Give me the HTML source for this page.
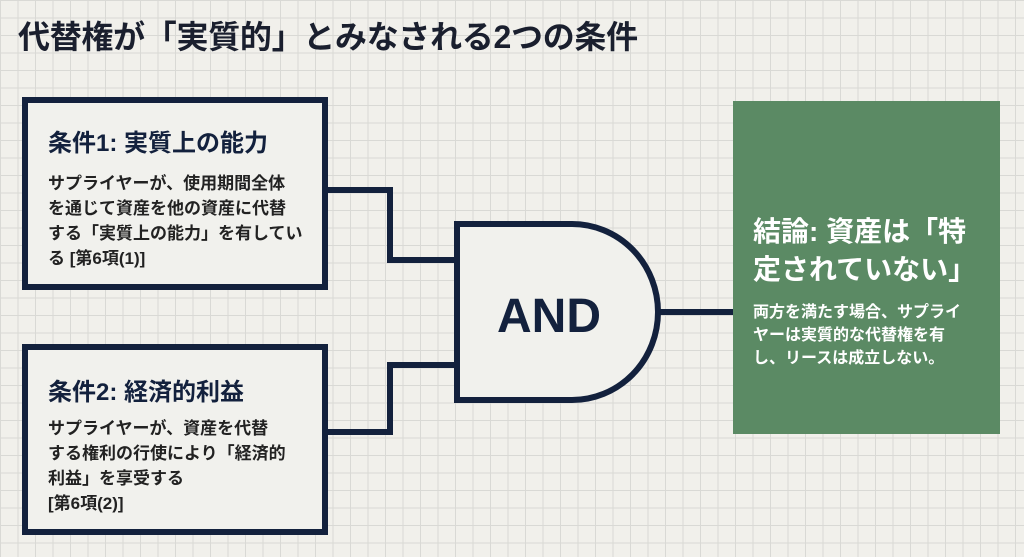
<!DOCTYPE html>
<html><head><meta charset="utf-8"><style>
body{margin:0;width:1024px;height:557px;overflow:hidden;background-color:#f1f0eb;
background-image:linear-gradient(#d9d9d5 1px,transparent 1px),linear-gradient(90deg,#d9d9d5 1px,transparent 1px);background-size:17.5px 17.5px;
font-family:"Liberation Sans","Noto Sans CJK JP",sans-serif;position:relative;color:#1a1f2e}
.t{position:absolute;left:18px;top:12px;font-size:32px;font-weight:bold;color:#1a1f2e;letter-spacing:-0.3px;white-space:nowrap}
.box{position:absolute;left:22px;width:294px;border:6px solid #13213d;background:#f1f1ed;box-sizing:content-box}
.box h3{margin:0;font-size:24px;font-weight:bold;color:#13213d;position:absolute;left:20px;white-space:nowrap}
.box p{margin:0;font-size:17px;font-weight:bold;line-height:25px;color:#222;position:absolute;left:20px;white-space:nowrap}
.g{position:absolute;left:733px;top:101px;width:267px;height:333px;background:#5b8a64;color:#fff}
</style></head><body>
<div class="t">代替権が「実質的」とみなされる2つの条件</div>
<svg style="position:absolute;left:0;top:0" width="1024" height="557">
<path d="M328 190H390V260H455M328 432H390V365H455M660 312H733" fill="none" stroke="#13213d" stroke-width="6"/>
<path d="M457 224H572A86 88 0 0 1 572 400H457Z" fill="#f1f1ed" stroke="#13213d" stroke-width="6"/>
<text x="549" y="332" text-anchor="middle" font-size="48" font-weight="bold" fill="#13213d" font-family="Liberation Sans, sans-serif">AND</text>
</svg>
<div class="box" style="top:97px;height:181px">
<h3 style="top:20px">条件1: 実質上の能力</h3>
<p style="top:68px">サプライヤーが、使用期間全体<br>を通じて資産を他の資産に代替<br>する「実質上の能力」を有してい<br>る [第6項(1)]</p>
</div>
<div class="box" style="top:344px;height:179px">
<h3 style="top:22px">条件2: 経済的利益</h3>
<p style="top:66px">サプライヤーが、資産を代替<br>する権利の行使により「経済的<br>利益」を享受する<br>[第6項(2)]</p>
</div>
<div class="g">
<div style="position:absolute;left:20px;top:112px;font-size:28px;font-weight:bold;line-height:38px;white-space:nowrap">結論: 資産は「特<br>定されていない」</div>
<div style="position:absolute;left:20px;top:200px;font-size:16px;font-weight:bold;line-height:23px;white-space:nowrap">両方を満たす場合、サプライ<br>ヤーは実質的な代替権を有<br>し、リースは成立しない。</div>
</div>
</body></html>
